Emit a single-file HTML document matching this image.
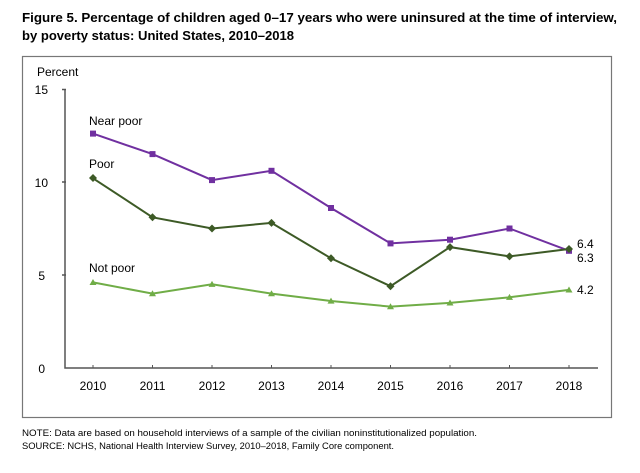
<!DOCTYPE html>
<html><head><meta charset="utf-8"><style>
body{margin:0;background:#fff;width:640px;height:473px;overflow:hidden}
svg{display:block;font-family:"Liberation Sans",sans-serif}
</style></head><body>
<svg width="640" height="473" viewBox="0 0 640 473">
<text x="22" y="22" font-size="13" font-weight="bold" textLength="595" lengthAdjust="spacingAndGlyphs">Figure 5. Percentage of children aged 0–17 years who were uninsured at the time of interview,</text>
<text x="22" y="40" font-size="13" font-weight="bold" textLength="272" lengthAdjust="spacingAndGlyphs">by poverty status: United States, 2010–2018</text>
<rect x="22.5" y="56.5" width="589" height="361" fill="none" stroke="#777" stroke-width="1.2"/>
<text x="37" y="76" font-size="12">Percent</text>
<g font-size="12" text-anchor="end">
<text x="48" y="94">15</text><text x="48" y="187">10</text><text x="45" y="280">5</text><text x="45" y="373">0</text>
</g>
<path d="M65 90V368H598M62 89.5H66M62 182H66M62 275H66" stroke="#555" stroke-width="1.5" fill="none"/>
<g stroke="#555" stroke-width="1">
<path d="M93 365v3M152.5 365v3M212 365v3M271.5 365v3M331 365v3M390.5 365v3M450 365v3M509.5 365v3M569 365v3"/>
</g>
<g font-size="12" text-anchor="middle">
<text x="93" y="390">2010</text><text x="152.5" y="390">2011</text><text x="212" y="390">2012</text><text x="271.5" y="390">2013</text><text x="331" y="390">2014</text><text x="390.5" y="390">2015</text><text x="450" y="390">2016</text><text x="509.5" y="390">2017</text><text x="569" y="390">2018</text>
</g>
<polyline fill="none" stroke="#7030a0" stroke-width="2" points="93,133.6 152.5,154.1 212,180.1 271.5,170.8 331,208.0 390.5,243.4 450,239.7 509.5,228.5 569,250.8"/>
<g fill="#7030a0">
<rect x="90" y="130.6" width="6" height="6"/><rect x="149.5" y="151.1" width="6" height="6"/><rect x="209" y="177.1" width="6" height="6"/><rect x="268.5" y="167.8" width="6" height="6"/><rect x="328" y="205" width="6" height="6"/><rect x="387.5" y="240.4" width="6" height="6"/><rect x="447" y="236.7" width="6" height="6"/><rect x="506.5" y="225.5" width="6" height="6"/><rect x="566" y="247.8" width="6" height="6"/>
</g>
<polyline fill="none" stroke="#3d5a26" stroke-width="2" points="93,178.3 152.5,217.3 212,228.5 271.5,222.9 331,258.3 390.5,286.2 450,247.1 509.5,256.4 569,249"/>
<g fill="#3d5a26">
<path d="M93 174l4 4-4 4-4-4zM152.5 213.3l4 4-4 4-4-4zM212 224.5l4 4-4 4-4-4zM271.5 218.9l4 4-4 4-4-4zM331 254.3l4 4-4 4-4-4zM390.5 282.2l4 4-4 4-4-4zM450 243.1l4 4-4 4-4-4zM509.5 252.4l4 4-4 4-4-4zM569 245l4 4-4 4-4-4z"/>
</g>
<polyline fill="none" stroke="#70ad47" stroke-width="2" points="93,282.4 152.5,293.6 212,284.3 271.5,293.6 331,301.0 390.5,306.6 450,302.9 509.5,297.3 569,289.9"/>
<g fill="#70ad47">
<path d="M93 279l3.5 6h-7zM152.5 290.2l3.5 6h-7zM212 280.9l3.5 6h-7zM271.5 290.2l3.5 6h-7zM331 297.6l3.5 6h-7zM390.5 303.2l3.5 6h-7zM450 299.5l3.5 6h-7zM509.5 293.9l3.5 6h-7zM569 286.5l3.5 6h-7z"/>
</g>
<g font-size="12">
<text x="89" y="125">Near poor</text>
<text x="89" y="168">Poor</text>
<text x="89" y="272">Not poor</text>
<text x="577" y="248">6.4</text>
<text x="577" y="262">6.3</text>
<text x="577" y="294">4.2</text>
</g>
<text x="22" y="436" font-size="9" textLength="455" lengthAdjust="spacingAndGlyphs">NOTE: Data are based on household interviews of a sample of the civilian noninstitutionalized population.</text>
<text x="22" y="449" font-size="9" textLength="372" lengthAdjust="spacingAndGlyphs">SOURCE: NCHS, National Health Interview Survey, 2010–2018, Family Core component.</text>
</svg>
</body></html>
